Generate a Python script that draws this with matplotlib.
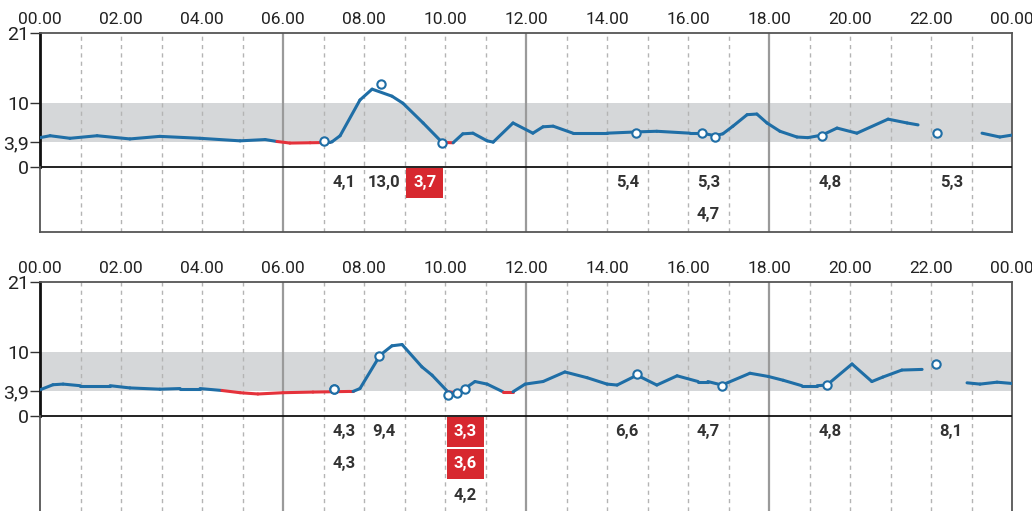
import numpy as np
import matplotlib.pyplot as plt
from matplotlib.collections import LineCollection
from matplotlib.patches import Rectangle

plt.rcParams['font.family'] = ['Roboto', 'DejaVu Sans']

# glucose curve, top day (hours, mmol/l), nan = gap in sensor data
top_t = [0.0, 0.25, 0.74, 1.41, 2.22, 2.96, 3.95, 4.94, 5.56, 5.85, 6.17, 6.67, 7.16, 7.21,
         7.41, 7.90, 8.20, 8.69, 8.96, 9.46, 9.93, 10.20, 10.44, 10.69, 11.04, 11.19, 11.68,
         12.17, 12.42, 12.67, 13.16, 14.0, 14.74, 15.23, 16.05, 16.35, 16.67, 16.86, 17.11,
         17.46, 17.70, 17.95, 18.27, 18.69, 18.96, 19.31, 19.68, 20.17, 20.94, 21.41, 21.68,
         22.5, 23.26, 23.70, 24.0]
top_v = [4.6, 4.9, 4.5, 4.9, 4.4, 4.8, 4.5, 4.1, 4.3, 4.0, 3.75, 3.8, 3.85, 3.95,
         4.9, 10.5, 12.2, 11.1, 10.0, 6.9, 3.85, 3.8, 5.2, 5.3, 4.1, 3.9, 6.9,
         5.3, 6.3, 6.4, 5.3, 5.3, 5.5, 5.6, 5.3, 5.3, 4.9, 5.2, 6.4,
         8.2, 8.3, 6.9, 5.6, 4.7, 4.6, 5.0, 6.1, 5.3, 7.5, 6.9, 6.6,
         np.nan, 5.3, 4.7, 5.0]

# glucose curve, bottom day
bot_t = [0.0, 0.32, 0.57, 0.99, 1.73, 2.22, 2.96, 3.46, 3.95, 4.49, 4.94, 5.38, 6.0, 6.74,
         7.65, 7.73, 7.90, 8.40, 8.69, 8.94, 9.43, 9.68, 10.07, 10.30, 10.49, 10.74, 11.04,
         11.43, 11.68, 11.98, 12.42, 12.96, 13.51, 14.0, 14.25, 14.74, 15.23, 15.73, 16.25,
         16.49, 16.84, 17.53, 17.98, 18.35, 18.81, 19.19, 19.43, 20.05, 20.54, 20.81, 21.28,
         21.78, 22.3, 22.89, 23.21, 23.63, 24.0]
bot_v = [4.1, 4.9, 5.0, 4.75, 4.75, 4.4, 4.2, 4.3, 4.3, 4.0, 3.65, 3.45, 3.65, 3.75,
         3.85, 3.85, 4.3, 9.55, 11.0, 11.2, 7.7, 6.4, 3.8, 3.65, 4.3, 5.4, 5.0,
         3.8, 3.8, 5.0, 5.4, 6.9, 6.0, 5.0, 4.85, 6.4, 4.85, 6.3, 5.4,
         5.4, 4.85, 6.7, 6.2, 5.6, 4.75, 4.75, 4.85, 8.15, 5.4, 6.1, 7.2,
         7.3, np.nan, 5.2, 5.0, 5.3, 5.1]

# finger-stick readings (time, value)
top_read_t = [7.0, 8.42, 9.93, 14.72, 16.35, 16.67, 19.3, 22.15]
top_read_v = [4.1, 13.0, 3.7, 5.4, 5.3, 4.7, 4.8, 5.3]
bot_read_t = [7.26, 7.26, 8.37, 10.07, 10.29, 10.5, 14.75, 16.84, 19.43, 22.12]
bot_read_v = [4.3, 4.3, 9.4, 3.3, 3.6, 4.2, 6.6, 4.7, 4.8, 8.1]

low = 3.9
high = 10
blue = '#1f6ea6'
red = '#e5323b'
px = 134 / 21.0  # pixels per mmol/l


def draw_day(ax, t, v, rt, rv, ybottom):
    ax.set_xlim(0, 24)
    ax.set_ylim(ybottom, 21)
    ax.axhspan(low, high, color='#d5d7d9', lw=0, zorder=0)
    for h in range(1, 24):
        if h % 6 == 0:
            ax.axvline(h, color='#9a9a9a', lw=1.6, zorder=1)
        else:
            ax.axvline(h, color='#b4b4b4', lw=1.0, ls=(0, (3, 3)), zorder=1)
    ax.axhline(0, color='#111111', lw=1.3, zorder=3)

    # line, red where below target
    t = np.array(t)
    v = np.array(v)
    pts = np.column_stack([t, v])
    segs = np.stack([pts[:-1], pts[1:]], axis=1)
    ok = ~np.isnan(segs).any(axis=(1, 2))
    segs = segs[ok]
    mean = segs[:, :, 1].mean(axis=1)
    cols = [red if m < low else blue for m in mean]
    lc = LineCollection(segs, colors=cols, linewidths=2.2, zorder=4, capstyle='round')
    ax.add_collection(lc)

    ax.plot(rt, rv, 'o', ms=6, mfc='white', mec=blue, mew=1.5, zorder=5, ls='none')

    # table of readings per hour column
    used = {}
    for tt, vv in zip(rt, rv):
        col = int(np.floor(tt))
        row = used.get(col, 0)
        used[col] = row + 1
        yc = -2.5 - row * 5.0
        if vv < low:
            ax.add_patch(Rectangle((col + 0.04, yc - 2.35), 0.92, 4.7, color='#d7282f',
                                   lw=0, zorder=2))
            tc = 'white'
        else:
            tc = '#333333'
        ax.text(col + 0.5, yc, ('%.1f' % vv).replace('.', ','), ha='center', va='center',
                fontsize=12, fontweight='bold', color=tc, zorder=6)

    ax.set_yticks([0, low, high, 21])
    ax.set_yticklabels(['0', '3,9', '10', '21'])
    ax.set_xticks(range(0, 25, 2))
    ax.set_xticklabels(['%02d.00' % (h % 24) for h in range(0, 25, 2)])
    ax.tick_params(axis='x', top=True, labeltop=True, bottom=False, labelbottom=False,
                   length=0, pad=4, labelsize=12.5, labelcolor='#222222')
    ax.tick_params(axis='y', length=7, width=1.0, color='#333333', pad=1,
                   labelsize=14, labelcolor='#222222')
    for s in ['top', 'right', 'bottom']:
        ax.spines[s].set_color('#555555')
        ax.spines[s].set_linewidth(1.3)
    ax.spines['left'].set_bounds(0, 21)
    ax.spines['left'].set_color('#111111')
    ax.spines['left'].set_linewidth(2.0)
    ax.plot([0, 0], [ybottom, 0], color='#555555', lw=1.3, clip_on=False, zorder=3)


fig = plt.figure(figsize=(10.32, 5.11), dpi=100)
W, H = 1032.0, 511.0
ax1 = fig.add_axes([40 / W, 1 - 232 / H, 972 / W, 199 / H])
ax2 = fig.add_axes([40 / W, 0, 972 / W, 229 / H])

draw_day(ax1, top_t, top_v, top_read_t, top_read_v, -(232 - 167) / px)
draw_day(ax2, bot_t, bot_v, bot_read_t, bot_read_v, -(511 - 416) / px)
ax2.spines['bottom'].set_visible(False)

fig.savefig('out.png', dpi=100)
